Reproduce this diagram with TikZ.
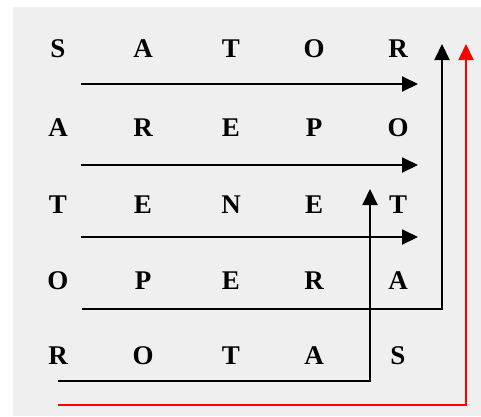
\documentclass[tikz,border=0pt]{standalone}
\usepackage{fontspec}
\setmainfont{Liberation Serif}
\usetikzlibrary{arrows.meta}
\definecolor{bggray}{HTML}{EFEFEF}
\tikzset{
  letter/.style={font=\bfseries\fontsize{27}{27}\selectfont, inner sep=0pt, anchor=center},
  flow/.style={line width=2pt, -{Triangle[length=16pt,width=15pt]}},
  flowred/.style={flow, red},
  plain/.style={line width=2pt}
}
\begin{document}
\begin{tikzpicture}[x=1pt,y=-1pt]
\useasboundingbox (0,0) rectangle (481,416);
\fill[bggray] (13,7) rectangle (481,416);
% letters
\foreach \w [count=\r] in {{S,A,T,O,R},{A,R,E,P,O},{T,E,N,E,T},{O,P,E,R,A},{R,O,T,A,S}}{
  \foreach \l [count=\c] in \w {
    \pgfmathsetmacro{\xx}{{58,143,231,314,398}[\c-1]}
    \pgfmathsetmacro{\yy}{{49,128,205,281,356}[\r-1]}
    \node[letter] (L\r\c) at (\xx,\yy) {\l};
  }
}
% arrow endpoints
\coordinate (a1s) at (81,84);   \coordinate (a1e) at (418,84);
\coordinate (a2s) at (81,165);  \coordinate (a2e) at (418,165);
\coordinate (a3s) at (81,237);  \coordinate (a3e) at (418,237);
\coordinate (a4s) at (82,309);  \coordinate (a4c) at (442,309); \coordinate (a4e) at (442,44);
\coordinate (a5s) at (58,381);  \coordinate (a5c) at (370,381); \coordinate (a5e) at (370,189);
\coordinate (a6s) at (58,405);  \coordinate (a6c) at (466,405); \coordinate (a6e) at (466,44);
\draw[flow] (a1s) -- (a1e);
\draw[flow] (a2s) -- (a2e);
\draw[flow] (a3s) -- (a3e);
\draw[flow] (a4s) -- (a4c) -- (a4e);
\draw[flow] (a5s) -- (a5c) -- (a5e);
\draw[flowred] (a6s) -- (a6c) -- (a6e);
\end{tikzpicture}
\end{document}
